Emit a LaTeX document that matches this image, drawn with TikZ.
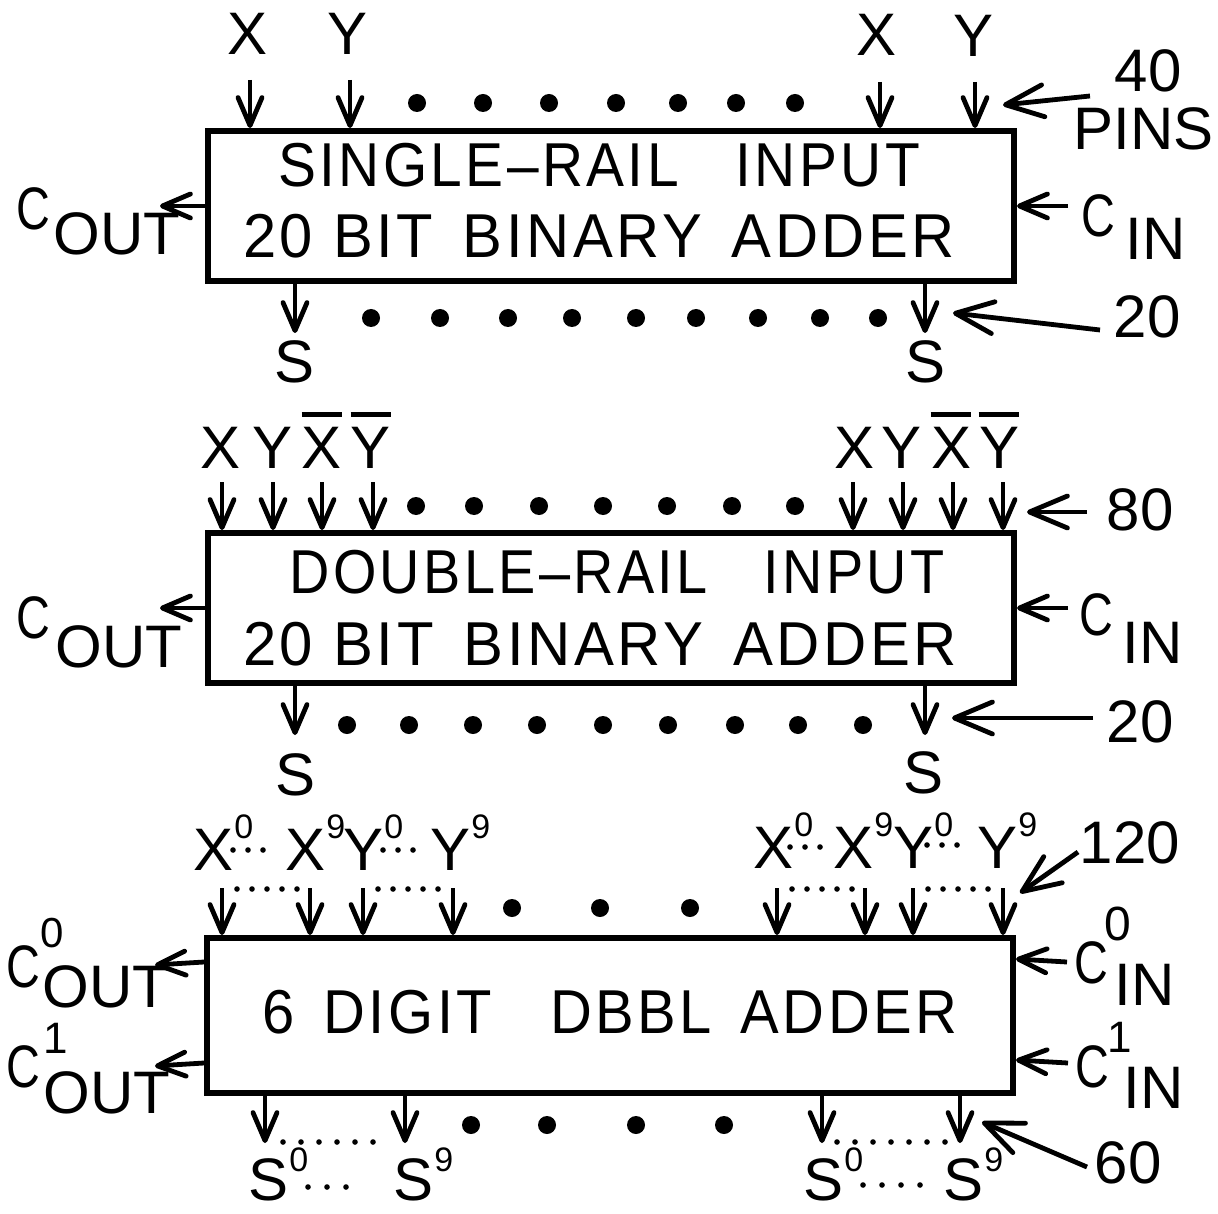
\documentclass[tikz,border=0pt]{standalone}
\usepackage{fontspec}
\setmainfont{Liberation Sans}
\newfontfamily\boxfont{Liberation Sans}[LetterSpace=6]
\usepackage{graphicx}
\usetikzlibrary{arrows.meta}
\newlength\fitlen
\newcommand\fitw[2]{\settowidth\fitlen{#2}\pgfmathsetmacro\fitsc{#1/\fitlen}\scalebox{\fitsc}[1]{#2}}
\newcommand\supx[3]{#1\kern0.5pt\raisebox{#3}{\fontsize{17}{17}\selectfont #2}}
\newcommand\narrowC{\scalebox{0.78}[1]{C}}
\tikzset{
  box/.style={draw, line width=3pt, inner sep=0pt, minimum width=403pt, minimum height=75pt},
  btxt/.style={anchor=base, inner sep=0pt, font=\boxfont\fontsize{31}{31}\selectfont},
  lbl/.style={anchor=base, inner sep=0pt, font=\fontsize{30}{30}\selectfont},
  lblw/.style={lbl, anchor=base west},
  supl/.style={anchor=base west, inner sep=0pt, font=\fontsize{#1}{#1}\selectfont},
  arr/.style={line width=2.4pt, -{Straight Barb[length=14pt,width=12pt,round]}},
  ptr/.style={line width=2.4pt, -{Straight Barb[length=19pt,width=16pt,round]}},
  ovl/.style={line width=2.4pt},
  bigdot/.style={fill=black},
  tdots/.style={line width=2.8pt, line cap=round, dash pattern=on 0pt off #1},
}
\begin{document}
\begin{tikzpicture}[x=0.5pt,y=-0.5pt]
\useasboundingbox (0,0) rectangle (1218,1213);

% ================= Box 1 =================
\node[box] (b1) at (611,206) {};
\node[btxt] (b1l1) at (599,187) {\fitw{321}{SINGLE–RAIL\quad INPUT}};
\node[btxt] (b1l2) at (599,258) {\fitw{356}{20 BIT\enspace BINARY\enspace ADDER}};

\node[lbl] (x1a) at (248,55) {X};
\node[lbl] (y1a) at (348,55) {Y};
\node[lbl] (x1b) at (876,56) {X};
\node[lbl] (y1b) at (973,57) {Y};
\foreach \n/\x/\y in {ia/250/80, ib/350/80, ic/880/82, id/975/82}{
  \coordinate (t1\n) at (\x,\y);
  \draw[arr] (t1\n) -- (t1\n |- b1.north);
}
\foreach \x in {417,483,549,616,678,736,795}{\fill[bigdot] (\x,103) circle (4.5pt);}

\node[lbl] (n40) at (1148,92) {40};
\node[lblw] (npins) at (1073,150) {PINS};
\coordinate (p40s) at (1090,96);
\coordinate (p40e) at (1003,105);
\draw[ptr] (p40s) -- (p40e);

\node[lblw] (co1c) at (16,230) {\narrowC};
\node[lblw] (co1o) at (53,255) {OUT};
\node[lblw] (ci1c) at (1081,237) {\narrowC};
\node[lblw] (ci1i) at (1125,260) {IN};
\coordinate (co1t) at (160,206);
\coordinate (ci1t) at (1068,206);
\draw[arr] (b1.west) -- (co1t);
\draw[arr] (ci1t) -- (b1.east);

\coordinate (s1a) at (295,333);
\coordinate (s1b) at (925,333);
\draw[arr] (s1a |- b1.south) -- (s1a);
\draw[arr] (s1b |- b1.south) -- (s1b);
\node[lbl] (s1al) at (295,383) {S};
\node[lbl] (s1bl) at (925,383) {S};
\foreach \x in {371,440,508,572,636,696,758,820,878}{\fill[bigdot] (\x,318) circle (4.5pt);}
\node[lbl] (n20a) at (1147,338) {20};
\coordinate (p20as) at (1100,330);
\coordinate (p20ae) at (953,313);
\draw[ptr] (p20as) -- (p20ae);

% ================= Box 2 =================
\node[box] (b2) at (611,608) {};
\node[btxt] (b2l1) at (617,593) {\fitw{327.5}{DOUBLE–RAIL\quad INPUT}};
\node[btxt] (b2l2) at (600,665) {\fitw{357}{20 BIT\enspace BINARY\enspace ADDER}};

\node[lbl] (x2a) at (221,468) {X};
\node[lbl] (y2a) at (273,468) {Y};
\node[lbl] (xb2a) at (322,468) {X};
\node[lbl] (yb2a) at (371,468) {Y};
\node[lbl] (x2b) at (854,468) {X};
\node[lbl] (y2b) at (901,468) {Y};
\node[lbl] (xb2b) at (951,468) {X};
\node[lbl] (yb2b) at (999,468) {Y};
\foreach \n in {xb2a,yb2a,xb2b,yb2b}{
  \draw[ovl] ([yshift=6pt]\n.north west) -- ([yshift=6pt]\n.north east);
}
\foreach \n/\x in {a/222, b/273, c/322, d/373, e/853, f/903, g/953, h/1003}{
  \coordinate (t2\n) at (\x,482);
  \draw[arr] (t2\n) -- (t2\n |- b2.north);
}
\foreach \x in {416,474,539,603,667,732,795}{\fill[bigdot] (\x,506) circle (4.5pt);}
\node[lbl] (n80) at (1140,530) {80};
\coordinate (p80s) at (1087,512);
\coordinate (p80e) at (1027,512);
\draw[ptr] (p80s) -- (p80e);

\node[lblw] (co2c) at (16,638) {\narrowC};
\node[lblw] (co2o) at (55,667) {OUT};
\node[lblw] (ci2c) at (1079,635) {\narrowC};
\node[lblw] (ci2i) at (1122,663) {IN};
\coordinate (co2t) at (160,608);
\coordinate (ci2t) at (1068,608);
\draw[arr] (b2.west) -- (co2t);
\draw[arr] (ci2t) -- (b2.east);

\coordinate (s2a) at (295,735);
\coordinate (s2b) at (925,735);
\draw[arr] (s2a |- b2.south) -- (s2a);
\draw[arr] (s2b |- b2.south) -- (s2b);
\node[lbl] (s2al) at (296,795) {S};
\node[lbl] (s2bl) at (923,793) {S};
\foreach \x in {347,409,473,537,603,668,735,798,863}{\fill[bigdot] (\x,725) circle (4.5pt);}
\node[lbl] (n20b) at (1140,742) {20};
\coordinate (p20bs) at (1093,718);
\coordinate (p20be) at (952,718);
\draw[ptr] (p20bs) -- (p20be);

% ================= Box 3 =================
\node[box, minimum height=77.5pt] (b3) at (610,1015.5) {};
\node[btxt] (b3l1) at (610,1033) {\fitw{347.5}{6\enspace DIGIT\quad DBBL\enspace ADDER}};

\node[lblw] (x3a) at (193,870) {\supx{X}{0}{16pt}};
\node[lblw] (x3b) at (285,870) {\supx{X}{9}{16pt}};
\node[lblw] (y3a) at (343,870) {\supx{Y}{0}{16pt}};
\node[lblw] (y3b) at (430,870) {\supx{Y}{9}{16pt}};
\node[lblw] (x3c) at (753,868) {\supx{X}{0}{16pt}};
\node[lblw] (x3d) at (833,868) {\supx{X}{9}{16pt}};
\node[lblw] (y3c) at (893,868) {\supx{Y}{0}{16pt}};
\node[lblw] (y3d) at (977,868) {\supx{Y}{9}{16pt}};
\draw[tdots=7.5pt] (233,850) -- (278,850);
\draw[tdots=7.5pt] (383,850) -- (423,850);
\draw[tdots=7.5pt] (790,847) -- (828,847);
\draw[tdots=7.5pt] (927,845) -- (972,845);

\foreach \n/\x in {a/222, b/310, c/363, d/453, e/777, f/865, g/913, h/1003}{
  \coordinate (t3\n) at (\x,888);
  \draw[arr] (t3\n) -- (t3\n |- b3.north);
}
\draw[tdots=7.5pt] (237,889) -- (300,889);
\draw[tdots=7.5pt] (378,889) -- (441,889);
\draw[tdots=7.5pt] (792,889) -- (855,889);
\draw[tdots=7.5pt] (928,889) -- (991,889);
\foreach \x in {512,600,690}{\fill[bigdot] (\x,908) circle (4.5pt);}

\node[lbl] (n120) at (1130,863) {120};
\coordinate (p120s) at (1078,852);
\coordinate (p120e) at (1020,893);
\draw[ptr] (p120s) -- (p120e);

\node[lblw] (co30c) at (6,987) {\narrowC};
\node[supl=21] (co30s) at (40,947) {0};
\node[lblw] (co30o) at (42,1007) {OUT};
\node[lblw] (co31c) at (6,1087) {\narrowC};
\node[supl=22] (co31s) at (43,1053) {1};
\node[lblw] (co31o) at (43,1113) {OUT};
\node[lblw] (ci30c) at (1074,983) {\narrowC};
\node[supl=24] (ci30s) at (1104,940) {0};
\node[lblw] (ci30i) at (1114,1005) {IN};
\node[lblw] (ci31c) at (1075,1087) {\narrowC};
\node[supl=22] (ci31s) at (1107,1052) {1};
\node[lblw] (ci31i) at (1123,1108) {IN};
\coordinate (co30t) at (155,965);
\coordinate (co31t) at (155,1066);
\coordinate (ci30t) at (1067,962);
\coordinate (ci31t) at (1068,1063);
\draw[arr] ([yshift=-13.5pt]b3.north west) -- (co30t);
\draw[arr] ([yshift=-64pt]b3.north west) -- (co31t);
\draw[arr] (ci30t) -- ([yshift=-12pt]b3.north east);
\draw[arr] (ci31t) -- ([yshift=-62.5pt]b3.north east);

\foreach \n/\x in {a/265, b/405, c/822, d/960}{
  \coordinate (s3\n) at (\x,1143);
  \draw[arr] (s3\n |- b3.south) -- (s3\n);
}
\draw[tdots=9pt] (283,1142) -- (379,1142);
\draw[tdots=9pt] (837,1142) -- (945,1142);
\foreach \x in {471,547,636,724}{\fill[bigdot] (\x,1125) circle (4.5pt);}

\node[lblw] (s3al) at (248,1200) {\supx{S}{0}{14.5pt}};
\node[lblw] (s3bl) at (393,1200) {\supx{S}{9}{14.5pt}};
\node[lblw] (s3cl) at (803,1200) {\supx{S}{0}{14.5pt}};
\node[lblw] (s3dl) at (943,1200) {\supx{S}{9}{14.5pt}};
\draw[tdots=9.5pt] (308,1187) -- (365,1187);
\draw[tdots=9.5pt] (863,1185) -- (939,1185);

\node[lbl] (n60) at (1128,1183) {60};
\coordinate (p60s) at (1087,1167);
\coordinate (p60e) at (982,1122);
\draw[ptr] (p60s) -- (p60e);
\end{tikzpicture}
\end{document}
